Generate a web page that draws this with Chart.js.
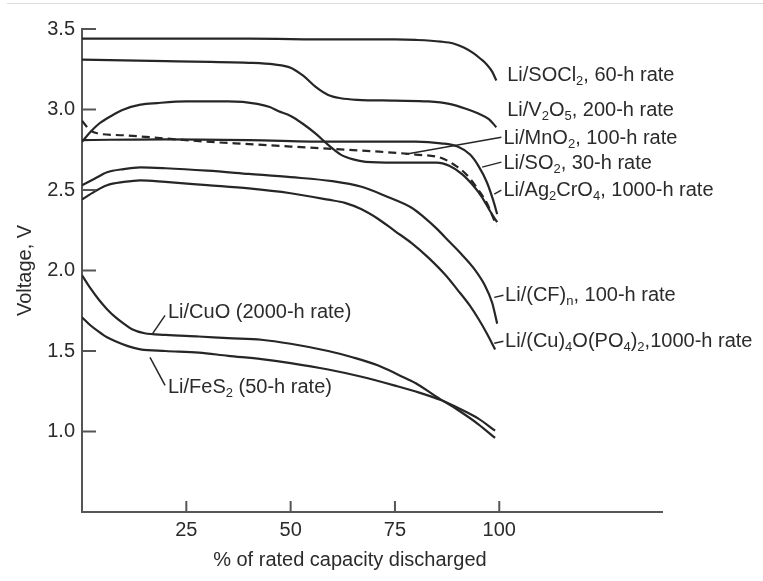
<!DOCTYPE html>
<html>
<head>
<meta charset="utf-8">
<script src="https://cdn.jsdelivr.net/npm/chart.js"></script>
<style>
  body { margin: 0; background: #fff; }
  #wrap { position: relative; width: 763px; height: 581px; }
  #topline { position: absolute; left: 7px; right: 0; top: 3px; border-top: 1px solid #ddd; }
</style>
</head>
<body>
<div id="wrap">
  <div id="topline"></div>
  <canvas id="chart" width="763" height="581"></canvas>
</div>

<script>
// % of rated capacity discharged / voltage
const socl2X = [0, 20, 40, 60, 75, 80, 86, 89, 91.5, 93.8, 95.5, 97, 98.3, 99.3];
const socl2V = [3.44, 3.44, 3.44, 3.435, 3.435, 3.432, 3.422, 3.41, 3.385, 3.35, 3.315, 3.28, 3.235, 3.18];

const v2o5X = [0, 20, 40, 46, 50, 53, 56, 59, 62, 66, 75, 83, 88, 92, 95, 97.5, 99.3];
const v2o5V = [3.31, 3.30, 3.29, 3.28, 3.26, 3.21, 3.14, 3.09, 3.07, 3.06, 3.055, 3.05, 3.035, 3.005, 2.975, 2.94, 2.89];

const ag2cro4X = [0, 2, 4, 7, 10, 14, 18, 25, 35, 42, 45, 47, 50, 53, 56, 59, 62, 65, 68, 75, 85, 88, 91, 94, 96, 98, 99.5];
const ag2cro4V = [2.80, 2.86, 2.91, 2.96, 3.00, 3.03, 3.04, 3.05, 3.05, 3.035, 3.015, 2.99, 2.96, 2.91, 2.85, 2.78, 2.72, 2.69, 2.675, 2.67, 2.67, 2.65, 2.60, 2.52, 2.45, 2.36, 2.30];

const so2X = [0, 20, 40, 60, 80, 86, 90, 93, 95, 97, 98.5, 99.5];
const so2V = [2.81, 2.815, 2.81, 2.80, 2.80, 2.79, 2.77, 2.72, 2.65, 2.55, 2.44, 2.35];

const mno2X = [0, 2, 4, 10, 20, 30, 40, 50, 60, 70, 80, 86, 89, 92, 95, 97, 98.5, 99.3];
const mno2V = [2.93, 2.87, 2.85, 2.84, 2.82, 2.80, 2.785, 2.77, 2.755, 2.74, 2.72, 2.70, 2.66, 2.60, 2.50, 2.42, 2.33, 2.28];

const cfX = [0, 3, 6, 10, 14, 20, 30, 40, 50, 60, 67, 73, 79, 82, 85, 88, 91, 94, 96.5, 98.3, 99.5];
const cfV = [2.53, 2.57, 2.61, 2.63, 2.64, 2.635, 2.62, 2.60, 2.58, 2.555, 2.52, 2.46, 2.39, 2.33, 2.26, 2.18, 2.10, 2.01, 1.91, 1.80, 1.67];

const cuPoX = [0, 3, 6, 10, 14, 20, 30, 40, 50, 59, 63, 67, 71, 75, 79, 83, 87, 90, 93, 95, 97, 99];
const cuPoV = [2.44, 2.49, 2.53, 2.55, 2.56, 2.55, 2.53, 2.51, 2.48, 2.44, 2.42, 2.38, 2.32, 2.245, 2.17, 2.08, 1.975, 1.88, 1.78, 1.70, 1.61, 1.51];

const cuoX = [0, 2, 4, 6, 8, 10, 12, 15, 20, 28, 35, 43, 50, 59, 65, 71, 76, 80, 85, 90, 95, 99];
const cuoV = [1.97, 1.89, 1.82, 1.76, 1.71, 1.67, 1.635, 1.61, 1.60, 1.59, 1.58, 1.57, 1.545, 1.50, 1.46, 1.41, 1.35, 1.30, 1.215, 1.135, 1.045, 0.96];

const fes2X = [0, 2, 4, 6, 8, 11, 14, 20, 28, 35, 43, 50, 59, 67, 75, 81, 86, 91, 95, 99];
const fes2V = [1.71, 1.66, 1.62, 1.585, 1.56, 1.53, 1.51, 1.50, 1.49, 1.47, 1.45, 1.425, 1.385, 1.34, 1.285, 1.24, 1.195, 1.135, 1.08, 1.005];

const xTicks = [25, 50, 75, 100];
const yTicks = [1.0, 1.5, 2.0, 2.5, 3.0, 3.5];

const lineColor = '#262626';
const axisColor = '#555';
const textColor = '#2b2b2b';
const fontFam = '"Liberation Sans", Arial, sans-serif';

// labels: {sub} = subscript. x,y in data units, leader = [x1,y1,x2,y2]
const curveLabels = [
  { text: 'Li/SOCl{2}, 60-h rate', x: 101.9, y: 3.214 },
  { text: 'Li/V{2}O{5}, 200-h rate', x: 101.9, y: 2.996 },
  { text: 'Li/MnO{2}, 100-h rate', x: 101.0, y: 2.822, leader: [100.5, 2.828, 77.5, 2.722] },
  { text: 'Li/SO{2}, 30-h rate', x: 101.0, y: 2.667, leader: [100.5, 2.673, 95.9, 2.642] },
  { text: 'Li/Ag{2}CrO{4}, 1000-h rate', x: 101.0, y: 2.499, leader: [100.5, 2.499, 98.8, 2.474] },
  { text: 'Li/(CF){n}, 100-h rate', x: 101.4, y: 1.846, leader: [101.0, 1.846, 98.8, 1.833] },
  { text: 'Li/(Cu){4}O(PO{4}){2},1000-h rate', x: 101.4, y: 1.560, leader: [101.0, 1.560, 98.8, 1.548] },
  { text: 'Li/CuO (2000-h rate)', x: 20.6, y: 1.74, leader: [19.9, 1.721, 16.8, 1.603] },
  { text: 'Li/FeS{2} (50-h rate)', x: 20.6, y: 1.274, leader: [16.3, 1.46, 19.9, 1.286] }
];

function pts(xs, vs) {
  return xs.map((x, i) => ({ x: x, y: vs[i] }));
}

function serie(label, xs, vs, dash) {
  return {
    label: label,
    data: pts(xs, vs),
    borderColor: lineColor,
    borderWidth: 2.2,
    borderDash: dash || [],
    pointRadius: 0,
    fill: false,
    cubicInterpolationMode: 'monotone'
  };
}

function drawRich(ctx, str, x, y) {
  const parts = str.split(/(\{[^}]*\})/);
  let cx = x;
  parts.forEach(p => {
    if (!p) return;
    if (p[0] === '{') {
      ctx.font = '13px ' + fontFam;
      const t = p.slice(1, -1);
      ctx.fillText(t, cx, y + 6);
      cx += ctx.measureText(t).width;
    } else {
      ctx.font = '20px ' + fontFam;
      ctx.fillText(p, cx, y);
      cx += ctx.measureText(p).width;
    }
  });
}

const extras = {
  id: 'extras',
  afterDraw(chart) {
    const ctx = chart.ctx;
    const x = chart.scales.x, y = chart.scales.y;
    const area = chart.chartArea;
    ctx.save();

    // inward tick marks
    ctx.strokeStyle = axisColor;
    ctx.lineWidth = 2;
    yTicks.forEach(v => {
      const py = y.getPixelForValue(v);
      ctx.beginPath(); ctx.moveTo(area.left, py); ctx.lineTo(area.left + 14, py); ctx.stroke();
    });
    xTicks.forEach(v => {
      const px = x.getPixelForValue(v);
      ctx.beginPath(); ctx.moveTo(px, area.bottom); ctx.lineTo(px, area.bottom - 11); ctx.stroke();
    });

    // leader lines
    ctx.strokeStyle = lineColor;
    ctx.lineWidth = 1.5;
    curveLabels.forEach(l => {
      if (!l.leader) return;
      const a = l.leader;
      ctx.beginPath();
      ctx.moveTo(x.getPixelForValue(a[0]), y.getPixelForValue(a[1]));
      ctx.lineTo(x.getPixelForValue(a[2]), y.getPixelForValue(a[3]));
      ctx.stroke();
    });

    // curve labels
    ctx.fillStyle = textColor;
    ctx.textBaseline = 'middle';
    ctx.textAlign = 'left';
    curveLabels.forEach(l => {
      drawRich(ctx, l.text, x.getPixelForValue(l.x), y.getPixelForValue(l.y));
    });

    // axis titles
    ctx.font = '20px ' + fontFam;
    ctx.textAlign = 'center';
    ctx.fillText('% of rated capacity discharged', x.getPixelForValue(64.2), area.bottom + 48);
    ctx.translate(25, (area.top + area.bottom) / 2);
    ctx.rotate(-Math.PI / 2);
    ctx.fillText('Voltage, V', 0, 0);
    ctx.restore();
  }
};

new Chart(document.getElementById('chart'), {
  type: 'line',
  data: {
    datasets: [
      serie('Li/SOCl2', socl2X, socl2V),
      serie('Li/V2O5', v2o5X, v2o5V),
      serie('Li/Ag2CrO4', ag2cro4X, ag2cro4V),
      serie('Li/SO2', so2X, so2V),
      serie('Li/MnO2', mno2X, mno2V, [8, 5]),
      serie('Li/(CF)n', cfX, cfV),
      serie('Li/(Cu)4O(PO4)2', cuPoX, cuPoV),
      serie('Li/CuO', cuoX, cuoV),
      serie('Li/FeS2', fes2X, fes2V)
    ]
  },
  options: {
    responsive: false,
    animation: false,
    layout: { padding: { left: 0, top: 29, right: 101, bottom: 0 } },
    plugins: { legend: { display: false }, tooltip: { enabled: false } },
    scales: {
      x: {
        type: 'linear',
        min: 0,
        max: 139,
        afterFit: s => { s.height = 69; },
        afterBuildTicks: s => { s.ticks = xTicks.map(v => ({ value: v })); },
        grid: { drawOnChartArea: false, drawTicks: false },
        border: { display: true, color: axisColor, width: 2 },
        ticks: { color: textColor, padding: 6, font: { size: 20, family: fontFam } }
      },
      y: {
        min: 0.5,
        max: 3.5,
        afterFit: s => { s.width = 82; },
        afterBuildTicks: s => { s.ticks = yTicks.map(v => ({ value: v })); },
        grid: { drawOnChartArea: false, drawTicks: false },
        border: { display: true, color: axisColor, width: 2 },
        ticks: {
          color: textColor,
          padding: 7,
          font: { size: 20, family: fontFam },
          callback: v => v.toFixed(1)
        }
      }
    }
  },
  plugins: [extras]
});
</script>
</body>
</html>
